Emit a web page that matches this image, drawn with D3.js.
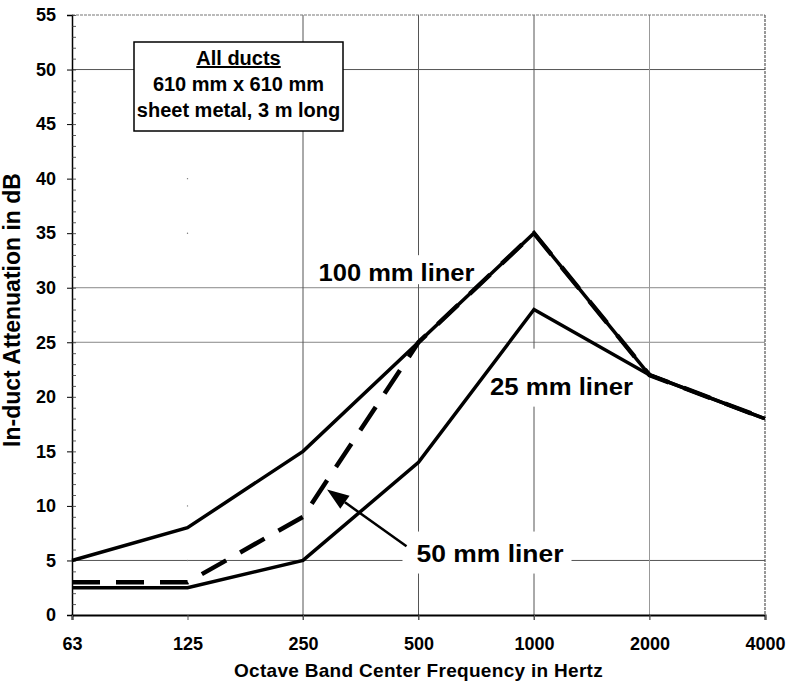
<!DOCTYPE html>
<html><head><meta charset="utf-8">
<script src="https://cdn.jsdelivr.net/npm/d3@7"></script>
<style>
body{margin:0;background:#fff;}
svg{display:block;font-family:Arial,"Liberation Sans",Helvetica,sans-serif;font-weight:bold;}
</style></head>
<body><svg id="chart" width="789" height="686"></svg>
<script>
const freqs = ["63","125","250","500","1000","2000","4000"];
const liner100 = [5, 8, 15, 25, 35, 22, 18];
const liner50  = [3, 3, 9, 25, 35, 22, 18];
const liner25  = [2.5, 2.5, 5, 14, 28, 22, 18];
const yTicks = [0,5,10,15,20,25,30,35,40,45,50,55];
const hGrid = [5,25,30,50];
const vGrid = ["250","500","1000","2000"];
const boxLines = ["All ducts","610 mm x 610 mm","sheet metal, 3 m long"];

const svg = d3.select("#chart");
const L=72, R=765, T=15, B=615;
const x = d3.scalePoint().domain(freqs).range([L,R]).padding(0);
const y = d3.scaleLinear().domain([0,55]).range([B,T]);

// gridlines
const grid = svg.append("g");
grid.selectAll("line.h").data(hGrid).join("line")
  .attr("x1",L).attr("x2",R).attr("y1",d=>y(d)).attr("y2",d=>y(d))
  .attr("stroke",d=>(d===25||d===30)?"#888":"#555").attr("stroke-width",1);
grid.selectAll("line.v").data(vGrid).join("line")
  .attr("x1",d=>x(d)).attr("x2",d=>x(d)).attr("y1",T).attr("y2",B+5)
  .attr("stroke",d=>d==="2000"?"#999":"#555").attr("stroke-width",1);
// faint dots on 125 line
grid.selectAll("circle").data([5,10,35,40]).join("circle")
  .attr("cx",x("125")).attr("cy",d=>y(d)).attr("r",0.7).attr("fill","#777");
// top & right dotted borders
svg.append("line").attr("x1",L).attr("x2",R).attr("y1",T).attr("y2",T)
  .attr("stroke","#777").attr("stroke-width",1.2).attr("stroke-dasharray","3,1");
svg.append("line").attr("x1",R).attr("x2",R).attr("y1",T).attr("y2",B)
  .attr("stroke","#555").attr("stroke-width",1.2).attr("stroke-dasharray","3,1");

// labels (with white backgrounds that hide gridlines)
const labels = [
  {t:"100 mm liner", f:"500", v:30.6, dx:-100, w:156, pl:6, pt:26, pb:3},
  {t:"25 mm liner",  f:"1000", v:20.2, dx:-44, w:143, pl:6, pt:46, pb:12},
  {t:"50 mm liner",  f:"500", v:4.9, dx:-2, w:147, pl:14, pt:30, pb:12}
];
const lg = svg.append("g");
labels.forEach(l=>{
  const tx = x(l.f)+l.dx, ty = y(l.v);
  lg.append("rect").attr("x",tx-l.pl).attr("y",ty-l.pt).attr("width",l.w+l.pl+8).attr("height",l.pt+l.pb).attr("fill","#fff");
});

// box
const bx=134, by=42, bw=209, bh=89;
svg.append("rect").attr("x",bx).attr("y",by).attr("width",bw).attr("height",bh)
  .attr("fill","#fff").attr("stroke","#000").attr("stroke-width",1.5);
const bt = svg.append("text").attr("text-anchor","middle").attr("font-size",20);
boxLines.forEach((s,i)=>{
  bt.append("tspan").attr("x",bx+bw/2).attr("y",by+23+i*26).text(s)
    .attr("text-decoration", i===0?"underline":null);
});

// axes
const yAxis = d3.axisLeft(y).tickValues(yTicks).tickSize(5).tickPadding(11);
const gy = svg.append("g").attr("transform",`translate(${L},0)`).call(yAxis);
gy.select(".domain").attr("stroke","#000").attr("stroke-width",1.5);
gy.selectAll(".tick line").attr("stroke","#000");
gy.selectAll("text").attr("font-size",18).attr("font-family","Arial,'Liberation Sans',sans-serif").attr("font-weight","bold").attr("fill","#000");
const yMinor = d3.axisRight(y).tickValues(d3.range(0,56,1)).tickSize(4).tickFormat("");
const gym = svg.append("g").attr("transform",`translate(${L},0)`).call(yMinor);
gym.select(".domain").remove();
gym.selectAll(".tick line").attr("stroke","#333").attr("stroke-width",0.8);

const xAxis = d3.axisBottom(x).tickSize(5).tickPadding(17);
const gx = svg.append("g").attr("transform",`translate(0,${B})`).call(xAxis);
gx.select(".domain").attr("stroke","#000").attr("stroke-width",2);
gx.selectAll(".tick line").attr("stroke","#555");
gx.selectAll("text").attr("font-size",18).attr("font-family","Arial,'Liberation Sans',sans-serif").attr("font-weight","bold").attr("fill","#000");

// lines
const line = d3.line().x((d,i)=>x(freqs[i])).y(d=>y(d));
const lines = svg.append("g").attr("fill","none").attr("stroke","#000").attr("stroke-linejoin","miter");
lines.append("path").attr("d",line(liner25)).attr("stroke-width",3.5);
lines.append("path").attr("d",line(liner100)).attr("stroke-width",3.5);
lines.append("path").attr("d",line(liner50)).attr("stroke-width",4.5).attr("stroke-dasharray","28,16");

// label text
labels.forEach(l=>{
  svg.append("text").attr("x",x(l.f)+l.dx).attr("y",y(l.v)).attr("font-size",24)
    .attr("textLength",l.w).attr("lengthAdjust","spacingAndGlyphs").text(l.t);
});

// arrow
const ax1 = x("500")-12, ay1 = y(6.3);
const ax2 = x("250")+24, ay2 = y(11.5);
const ang = Math.atan2(ay2-ay1, ax2-ax1);
const hl=22, hw=8;
const bxp = ax2 - hl*Math.cos(ang), byp = ay2 - hl*Math.sin(ang);
svg.append("line").attr("x1",ax1).attr("y1",ay1).attr("x2",bxp).attr("y2",byp)
  .attr("stroke","#000").attr("stroke-width",2.5);
svg.append("path").attr("d",`M${ax2},${ay2}L${bxp+hw*Math.sin(ang)},${byp-hw*Math.cos(ang)}L${bxp-hw*Math.sin(ang)},${byp+hw*Math.cos(ang)}Z`).attr("fill","#000");

// axis titles
svg.append("text").attr("transform",`translate(20,310) rotate(-90)`).attr("text-anchor","middle")
  .attr("font-size",23).text("In-duct Attenuation in dB");
svg.append("text").attr("x",(L+R)/2).attr("y",677).attr("text-anchor","middle")
  .attr("font-size",19).attr("letter-spacing",0.3).text("Octave Band Center Frequency in Hertz");
</script></body></html>
